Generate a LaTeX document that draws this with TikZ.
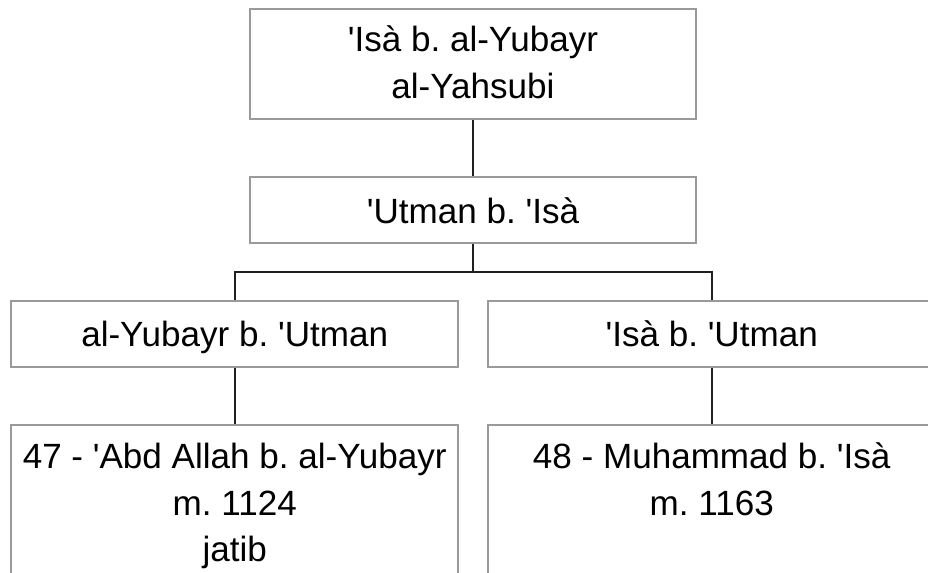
\documentclass[tikz,border=0pt]{standalone}
\usepackage{fontspec}
\setmainfont{Liberation Sans}
\newcommand{\tq}{\textquotesingle}
\definecolor{boxgray}{HTML}{9A9A9A}
\definecolor{linkdark}{HTML}{231F20}
\begin{document}
\frenchspacing
\begin{tikzpicture}[x=0.75pt,y=-0.75pt,
  box/.style={draw=boxgray, line width=1.5pt, fill=white, inner sep=0pt,
    align=center, text depth=0pt, font=\fontsize{26.3}{35}\selectfont},
  txt/.style={inner sep=0pt, align=center, font=\fontsize{26.3}{35}\selectfont},
  link/.style={draw=linkdark, line width=1.5pt}]
\useasboundingbox (0,0) rectangle (928,573);
\clip (0,0) rectangle (928,573);

% generations, from the ancestor downwards
\node[box, text depth=3pt, minimum width=334.5pt, minimum height=82.5pt] (top) at (473,64)
  {\tq Isà b. al-Yubayr\\al-Yahsubi};
\node[box, minimum width=334.5pt, minimum height=49.9pt] (mid) at (473,210.2)
  {\tq Utman b. \tq Isà};
\node[box, minimum width=335.5pt, minimum height=50pt] (left) at (234.7,334)
  {al-Yubayr b. \tq Utman};
\node[box, minimum width=335.5pt, minimum height=50pt] (right) at (711.7,334)
  {\tq Isà b. \tq Utman};

% last generation: tall boxes running off the lower edge
\node[box, minimum width=335.5pt, minimum height=146.25pt] (bl) at (234.7,522.5) {};
\node[box, minimum width=335.5pt, minimum height=146.25pt] (br) at (711.7,522.5) {};
\node[txt, anchor=north, yshift=-14pt] (bltext) at (bl.north)
  {47 - \tq Abd Allah b. al-Yubayr\\m. 1124\\jatib};
\node[txt, anchor=north, yshift=-14pt] (brtext) at (br.north)
  {48 - Muhammad b. \tq Isà\\m. 1163};

% descent lines
\coordinate (fork) at (473,272);
\draw[link] (top.south) -- (mid.north);
\draw[link] (mid.south) -- (fork);
\draw[link] (left.north) |- (fork) -| (right.north);
\draw[link] (left.south) -- (bl.north);
\draw[link] (right.south) -- (br.north);
\end{tikzpicture}
\end{document}
